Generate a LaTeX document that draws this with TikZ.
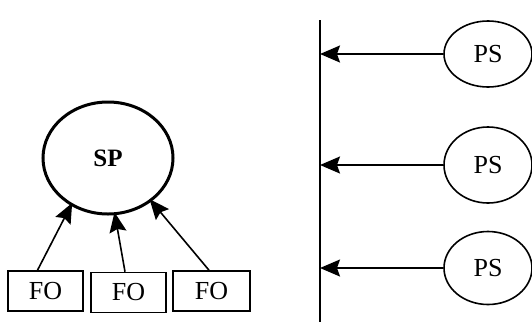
\documentclass[tikz,border=0pt]{standalone}
\usepackage{fontspec}
\setmainfont{Liberation Serif}
\usetikzlibrary{shapes.geometric,arrows.meta}
\begin{document}
\begin{tikzpicture}[x=1pt, y=-1pt, font=\fontsize{26}{30}\selectfont,
  proc/.style={draw, ellipse, line width=1.6pt, inner sep=0pt},
  fobox/.style={draw, line width=1.6pt, minimum width=75pt, minimum height=40pt, inner sep=0pt},
  feed/.style={-{Stealth[length=20pt, width=17pt, inset=3pt]}, line width=1.6pt}]
  \useasboundingbox (0,0) rectangle (532,322);
  % left: the SP fed by three FO boxes
  \node[proc, line width=3pt, minimum width=130pt, minimum height=112pt, font=\fontsize{25}{30}\selectfont\bfseries] (sp) at (108,158) {SP};
  \foreach \n/\x/\y/\w in {1/45.5/291/75, 2/128.5/292.5/75, 3/211.5/291/77}
    \node[fobox, minimum width=\w pt] (fo\n) at (\x,\y) {FO};
  \foreach \n/\dx/\a in {1/-8/232, 2/-3.5/277, 3/-2.5/315}
    \draw[feed, shorten >=-3pt] ([xshift=\dx pt]fo\n.north) -- (sp.\a);
  % right: three PS onto a common line
  \coordinate (bustop) at (320,20);
  \coordinate (busbot) at (320,322);
  \draw[line width=1.6pt] (bustop) -- (busbot);
  \foreach \n/\y/\h in {1/54/66, 2/165/76, 3/268/73} {
    \node[proc, minimum width=88pt, minimum height=\h pt] (ps\n) at (488,\y) {PS};
    \draw[feed] (ps\n.west) -- (ps\n.west -| bustop);
  }
\end{tikzpicture}
\end{document}
